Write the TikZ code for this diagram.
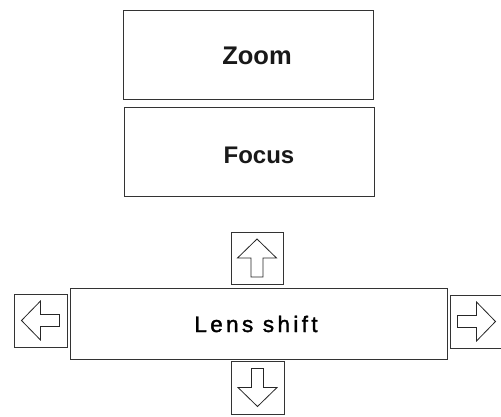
\documentclass[tikz,border=0pt]{standalone}
\usepackage{fontspec}
\setmainfont{Liberation Sans}
\newfontfamily\lensfont[LetterSpace=15,FakeBold=1.6]{Liberation Sans}
\begin{document}
\begin{tikzpicture}[x=1pt,y=-1pt,
  box/.style={draw=black!80,line width=1pt,rectangle,inner sep=0pt,fill=white},
  lbl/.style={font=\bfseries\fontsize{24}{28}\selectfont,text=black!90,anchor=base,inner sep=0pt},
  arrowglyph/.pic={\draw[line width=0.8pt,black!85,line join=miter]
     (0,-19)--(19.5,0)--(6,0)--(6,19)--(-6,19)--(-6,0)--(-19.5,0)--cycle;}]
\useasboundingbox (0,0) rectangle (501,416);
% top boxes
\node[box,minimum width=250pt,minimum height=89pt] (zoom) at (248,54.5) {};
\node[box,minimum width=250pt,minimum height=89pt] (focus) at (249,151.5) {};
\node[lbl,font=\bfseries\fontsize{25.5}{28}\selectfont] (zoomtxt) at (257,64) {Zoom};
\node[lbl] (focustxt) at (259,163) {Focus};
% lens shift
\node[box,minimum width=377pt,minimum height=71pt] (lens) at (258.5,323.5) {};
\node[font=\lensfont\fontsize{22.5}{26}\selectfont,anchor=base,inner sep=0pt] (lenstxt) at (256,332) {Lens shift};
% arrow boxes
\node[box,minimum width=52pt,minimum height=52pt] (up) at (257,258) {};
\node[box,minimum width=53pt,minimum height=53pt] (down) at (257.5,387.5) {};
\node[box,minimum width=53pt,minimum height=53pt] (left) at (40.5,320.5) {};
\node[box,minimum width=53pt,minimum height=53pt] (right) at (476.5,321.5) {};
\pic at (up.center) {arrowglyph};
\pic[rotate=180] at (down.center) {arrowglyph};
\pic[rotate=90] at (left.center) {arrowglyph};
\pic[rotate=-90] at (right.center) {arrowglyph};
\end{tikzpicture}
\end{document}
